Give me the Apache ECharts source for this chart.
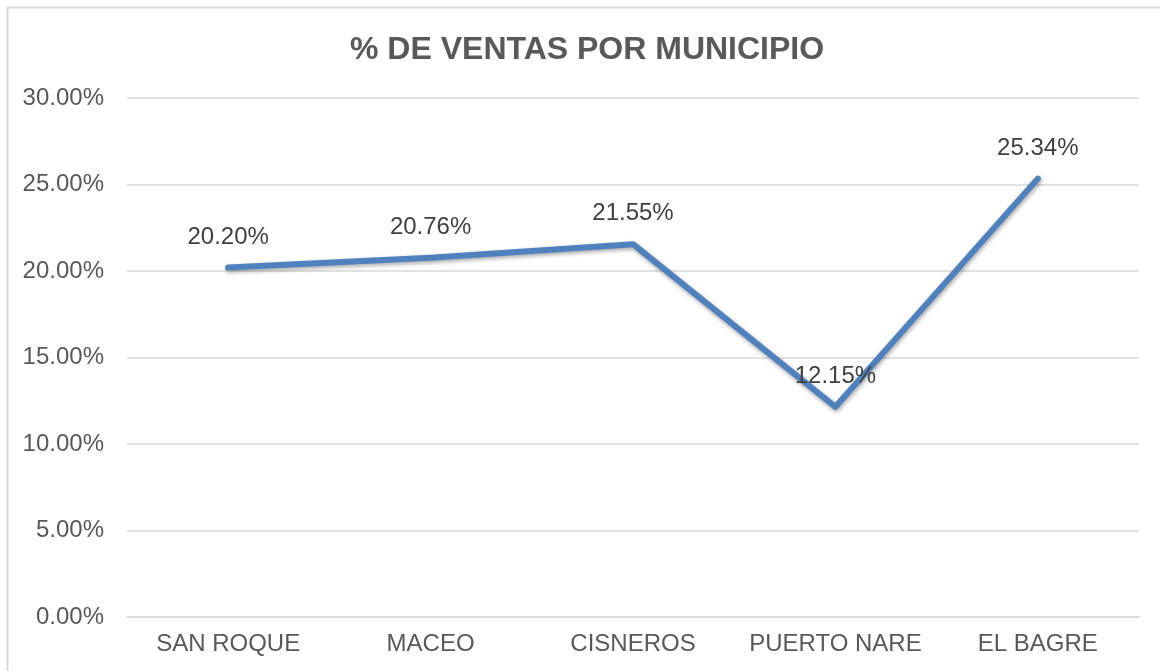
<!DOCTYPE html>
<html>
<head>
<meta charset="utf-8">
<script src="https://cdn.jsdelivr.net/npm/echarts@6/dist/echarts.min.js"></script>
<style>
  html, body { margin: 0; padding: 0; background: #fff; }
  #chart { width: 1160px; height: 671px; }
</style>
</head>
<body>
<div id="chart"></div>
<script>
// municipios y porcentaje de ventas
const municipios = ['SAN ROQUE', 'MACEO', 'CISNEROS', 'PUERTO NARE', 'EL BAGRE']
const ventas = [20.20, 20.76, 21.55, 12.15, 25.34]
const yTicks = [0, 5, 10, 15, 20, 25, 30]

const chart = echarts.init(document.getElementById('chart'))
const option = {
  animation: false,
  backgroundColor: '#fff',
  title: {
    text: '% DE VENTAS POR MUNICIPIO',
    left: 345,
    top: 29,
    textStyle: {
      fontFamily: 'Liberation Sans, Arial, sans-serif',
      fontSize: 32,
      fontWeight: 'bold',
      color: '#595959'
    }
  },
  graphic: [{
    type: 'polyline',
    silent: true,
    shape: { points: [[7.5, 680], [7.5, 7.5], [1160, 7.5]] },
    style: { stroke: '#d9d9d9', lineWidth: 2, fill: null }
  }],
  grid: { left: 127, right: 21, top: 98, bottom: 54 },
  xAxis: {
    type: 'category',
    data: municipios,
    boundaryGap: true,
    axisLine: { show: true, lineStyle: { color: '#d9d9d9', width: 1.5 } },
    axisTick: { show: false },
    axisLabel: {
      interval: 0,
      margin: 15,
      fontFamily: 'Liberation Sans, Arial, sans-serif',
      fontSize: 24,
      color: '#595959'
    }
  },
  yAxis: {
    type: 'value',
    min: yTicks[0],
    max: yTicks[yTicks.length - 1],
    interval: 5,
    axisLine: { show: false },
    axisTick: { show: false },
    splitLine: { lineStyle: { color: '#d9d9d9', width: 1.5 } },
    axisLabel: {
      margin: 23,
      fontFamily: 'Liberation Sans, Arial, sans-serif',
      fontSize: 24,
      color: '#595959',
      formatter: v => v.toFixed(2) + '%'
    }
  },
  series: [{
    type: 'line',
    data: ventas,
    symbol: 'circle',
    symbolSize: 5,
    showSymbol: true,
    itemStyle: { color: '#4F81BD' },
    lineStyle: {
      color: '#4F81BD',
      width: 6,
      cap: 'round',
      join: 'round',
      shadowColor: 'rgba(0,0,0,0.35)',
      shadowBlur: 4,
      shadowOffsetX: 1,
      shadowOffsetY: 2
    },
    label: {
      show: true,
      position: 'top',
      distance: 16,
      fontFamily: 'Liberation Sans, Arial, sans-serif',
      fontSize: 24,
      color: '#404040',
      formatter: p => p.value.toFixed(2) + '%'
    }
  }]
}
chart.setOption(option)
</script>
</body>
</html>
